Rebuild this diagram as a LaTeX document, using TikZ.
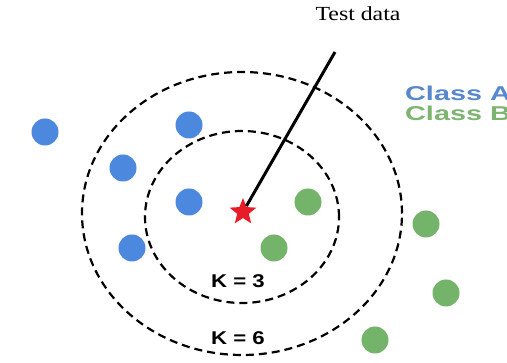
\documentclass[tikz,border=0pt]{standalone}
\usepackage{fontspec}
\usetikzlibrary{shapes.geometric}
\newfontfamily\tdserif{Liberation Serif}
\newfontfamily\tdsans{Liberation Sans}
\definecolor{dotblue}{RGB}{76,136,222}
\definecolor{dotgreen}{RGB}{116,180,106}
\definecolor{txtblue}{RGB}{88,136,204}
\definecolor{txtgreen}{RGB}{124,180,112}
\definecolor{starred}{RGB}{232,28,40}
\tikzset{
  bluedot/.style={circle,fill=dotblue,minimum size=27pt,inner sep=0pt},
  greendot/.style={circle,fill=dotgreen,minimum size=27pt,inner sep=0pt},
  ring/.style={draw=black,line width=2.2pt,dash pattern=on 8pt off 5pt},
  lbl/.style={anchor=base,inner sep=0pt},
}
\begin{document}
\begin{tikzpicture}[x=1pt,y=-1pt]
\useasboundingbox (0,0) rectangle (507,363);
\fill[white] (0,0) rectangle (507,363);
\clip (0,0) rectangle (507,363);
% rings
\draw[ring] (242,213.5) ellipse [x radius=160pt, y radius=141.5pt];
\draw[ring] (242,217) ellipse [x radius=97pt, y radius=86pt];
% class A points
\node[bluedot] (a1) at (45,132) {};
\node[bluedot] (a2) at (189,125) {};
\node[bluedot] (a3) at (123,168) {};
\node[bluedot] (a4) at (189,202) {};
\node[bluedot] (a5) at (132,248) {};
% class B points
\node[greendot] (b1) at (308,202) {};
\node[greendot] (b2) at (274,248) {};
\node[greendot] (b3) at (426,224) {};
\node[greendot] (b4) at (446,293) {};
\node[greendot] (b5) at (375,340) {};
% test point
\node[star,star points=5,star point ratio=2.3,fill=starred,minimum size=28pt,inner sep=0pt] (star) at (243,212) {};
\coordinate (tip) at (335,52);
\draw[line width=3pt] (star) -- (tip);
% labels
\node[lbl] (test) at (358,20.7) {\tdserif\fontsize{20}{24}\selectfont\scalebox{1.19}[1]{Test data}};
\node[lbl,anchor=base west,text=txtblue] (clA) at (405,101) {\tdsans\bfseries\fontsize{20}{24}\selectfont\scalebox{1.44}[1]{Class A}};
\node[lbl,anchor=base west,text=txtgreen] (clB) at (405,120.5) {\tdsans\bfseries\fontsize{20}{24}\selectfont\scalebox{1.44}[1]{Class B}};
\node[lbl] (k3) at (238,287.5) {\tdsans\bfseries\fontsize{18.5}{22}\selectfont\scalebox{1.2}[1]{K = 3}};
\node[lbl] (k6) at (238,345) {\tdsans\bfseries\fontsize{18.5}{22}\selectfont\scalebox{1.2}[1]{K = 6}};
\end{tikzpicture}
\end{document}
